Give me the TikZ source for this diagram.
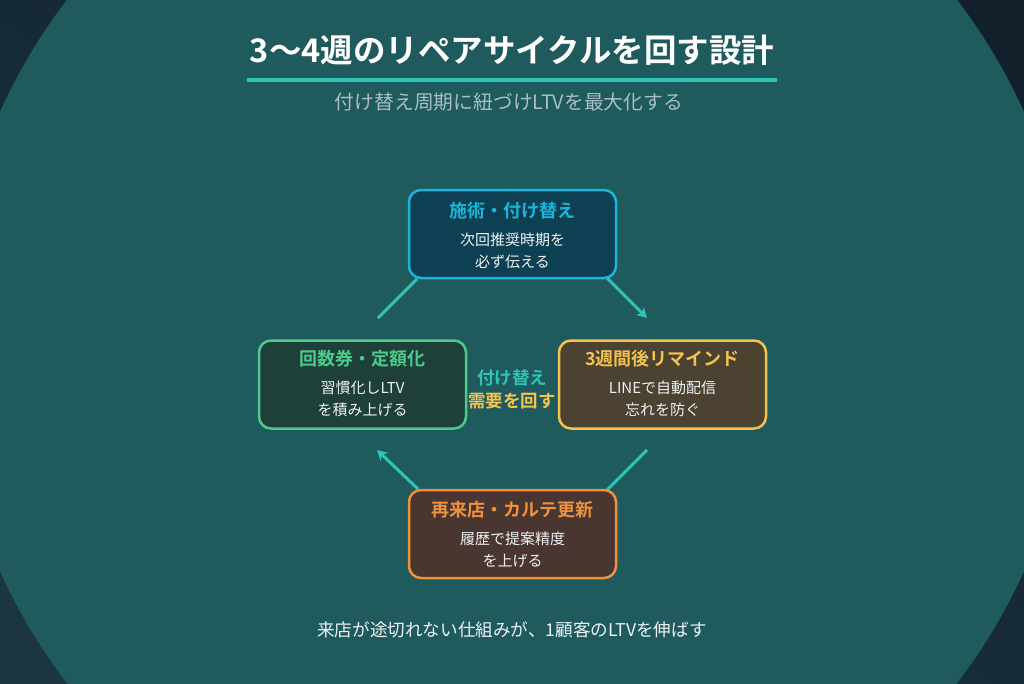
\documentclass[tikz,border=0pt]{standalone}
\usepackage{fontspec}
\setmainfont{Noto Sans CJK JP}[BoldFont={Noto Sans CJK JP Bold}]
\usetikzlibrary{arrows.meta}
\definecolor{outerbgA}{HTML}{12202B}
\definecolor{outerbgB}{HTML}{1B3641}
\definecolor{innerbg}{HTML}{1F5A5C}
\definecolor{accent}{HTML}{2EC4B6}
\definecolor{subtxt}{HTML}{A8BFC6}
\definecolor{bodytxt}{HTML}{EEF2F4}
\definecolor{cyanfill}{HTML}{0E4054}
\definecolor{cyanline}{HTML}{1CB5D9}
\definecolor{greenfill}{HTML}{1E3F3A}
\definecolor{greenline}{HTML}{4CCB8C}
\definecolor{yellowfill}{HTML}{4B4232}
\definecolor{yellowline}{HTML}{F4C34F}
\definecolor{orangefill}{HTML}{4A3631}
\definecolor{orangeline}{HTML}{F0913D}
\tikzset{
  card/.style={draw, line width=2.5pt, rounded corners=12pt, minimum width=207pt, minimum height=88pt, inner sep=0pt},
  cardtitle/.style={font=\bfseries\fontsize{18}{21}\selectfont, inner sep=0pt},
  cardbody/.style={font=\fontsize{15}{22}\selectfont, text=bodytxt, align=center, inner sep=0pt},
  conn/.style={draw=accent, line width=3pt},
  connarrow/.style={conn, -{Stealth[length=10pt,width=11pt,inset=3pt]}},
}
\begin{document}
\begin{tikzpicture}[x=1pt,y=-1pt]
\useasboundingbox (0,0) rectangle (1024,683);
\shade[top color=outerbgA, bottom color=outerbgB, shading angle=-30] (0,0) rectangle (1024,683);
\fill[innerbg] (512,341.5) circle[radius=561pt];

% title
\node[font=\bfseries\fontsize{32.5}{38}\selectfont, text=white, inner sep=0pt] (title) at (512,50) {3〜4週のリペアサイクルを回す設計};
\coordinate (ulA) at (247,80);
\coordinate (ulB) at (777,80);
\draw[accent, line width=4pt] (ulA) -- (ulB);
\node[font=\fontsize{19.8}{23}\selectfont, text=subtxt, inner sep=0pt] (sub) at (509,102) {付け替え周期に紐づけLTVを最大化する};

% connector end points
\coordinate (c1a) at (607,278); \coordinate (c1b) at (647,318);
\coordinate (c2a) at (647,450); \coordinate (c2b) at (607,490);
\coordinate (c3a) at (418,489); \coordinate (c3b) at (377,450);
\coordinate (c4a) at (378,318); \coordinate (c4b) at (417,279);
\draw[connarrow] (c1a) -- (c1b);
\draw[conn] (c2a) -- (c2b);
\draw[connarrow] (c3a) -- (c3b);
\draw[conn] (c4a) -- (c4b);

% cards
\node[card, fill=cyanfill, draw=cyanline] (top) at (512.5,234) {};
\node[cardtitle, text=cyanline] (toptitle) at (512.5,211) {施術・付け替え};
\node[cardbody] (topbody) at (512.5,250.5) {次回推奨時期を\\必ず伝える};

\node[card, fill=greenfill, draw=greenline] (left) at (362.5,384.5) {};
\node[cardtitle, text=greenline] (lefttitle) at (362.5,359) {回数券・定額化};
\node[cardbody] (leftbody) at (362.5,398.5) {習慣化しLTV\\を積み上げる};

\node[card, fill=yellowfill, draw=yellowline] (right) at (662.5,384.5) {};
\node[cardtitle, text=yellowline] (righttitle) at (662.5,359) {3週間後リマインド};
\node[cardbody] (rightbody) at (662.5,398.5) {LINEで自動配信\\忘れを防ぐ};

\node[card, fill=orangefill, draw=orangeline] (bottom) at (512.5,534) {};
\node[cardtitle, text=orangeline] (bottomtitle) at (512.5,510) {再来店・カルテ更新};
\node[cardbody] (bottombody) at (512.5,549.5) {履歴で提案精度\\を上げる};

% center label
\node[font=\bfseries\fontsize{17.5}{20}\selectfont, text=accent, inner sep=0pt] (c1) at (512,378) {付け替え};
\node[font=\bfseries\fontsize{17.5}{20}\selectfont, text=yellowline, inner sep=0pt] (c2) at (512,401) {需要を回す};

% footer
\node[font=\fontsize{17.6}{20}\selectfont, text=bodytxt, inner sep=0pt] (foot) at (512,630) {来店が途切れない仕組みが、1顧客のLTVを伸ばす};
\end{tikzpicture}
\end{document}
